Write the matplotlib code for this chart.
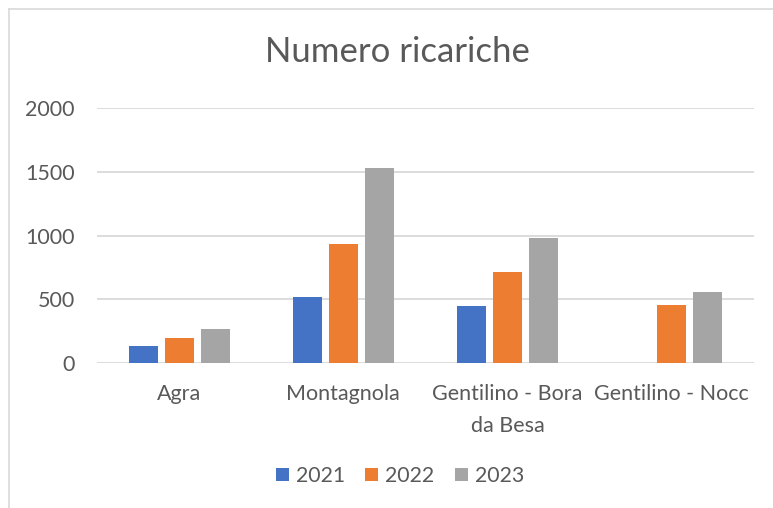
import numpy as np
import matplotlib.pyplot as plt
from matplotlib.lines import Line2D

categories = ["Agra", "Montagnola", "Gentilino - Bora\nda Besa", "Gentilino - Nocc"]
years = ["2021", "2022", "2023"]
v2021 = [133, 518, 447, 0]
v2022 = [196, 931, 714, 455]
v2023 = [265, 1527, 979, 557]
yticks = [0, 500, 1000, 1500, 2000]

colors = ["#4472C4", "#ED7D31", "#A5A5A5"]
text_c = "#595959"
grid_c = "#D9D9D9"

plt.rcParams['font.family'] = ['Lato', 'DejaVu Sans']

fig = plt.figure(figsize=(7.73, 5.08), dpi=100)
ax = fig.add_axes([97 / 773, 1 - 363 / 508, 657 / 773, 255 / 508])

x = np.arange(len(categories))
step = 0.219
width = 0.177
for i, (vals, col, lab) in enumerate(zip([v2021, v2022, v2023], colors, years)):
    ax.bar(x + (i - 1) * step, vals, width, color=col, label=lab, zorder=3)

ax.set_xlim(-0.5, len(categories) - 0.5)
ax.set_ylim(0, 2000)
ax.set_yticks(yticks)
ax.set_xticks(x)
ax.set_xticklabels(categories, linespacing=1.75)
ax.grid(axis="y", color=grid_c, linewidth=1.3, zorder=0)
ax.tick_params(axis="y", length=0, pad=16, labelsize=15.5, labelcolor=text_c)
ax.tick_params(axis="x", length=0, pad=15, labelsize=15.5, labelcolor=text_c)
for s in ax.spines.values():
    s.set_visible(False)

fig.text(397 / 773, 1 - 52 / 508, "Numero ricariche", ha="center", va="center",
         fontsize=25, color=text_c)

leg = fig.legend(loc="center", bbox_to_anchor=(400 / 773, 1 - 476 / 508), ncol=3,
                 frameon=False, fontsize=15.3, handlelength=0.6, handleheight=0.6,
                 handletextpad=0.35, columnspacing=0.95)
for t in leg.get_texts():
    t.set_color(text_c)

# outer chart frame (left and top edges visible)
fig.add_artist(Line2D([9 / 773, 9 / 773], [0, 1 - 9 / 508], color=grid_c, linewidth=1.2))
fig.add_artist(Line2D([9 / 773, 1], [1 - 9 / 508, 1 - 9 / 508], color=grid_c, linewidth=1.2))

fig.savefig("out.png", dpi=100)
